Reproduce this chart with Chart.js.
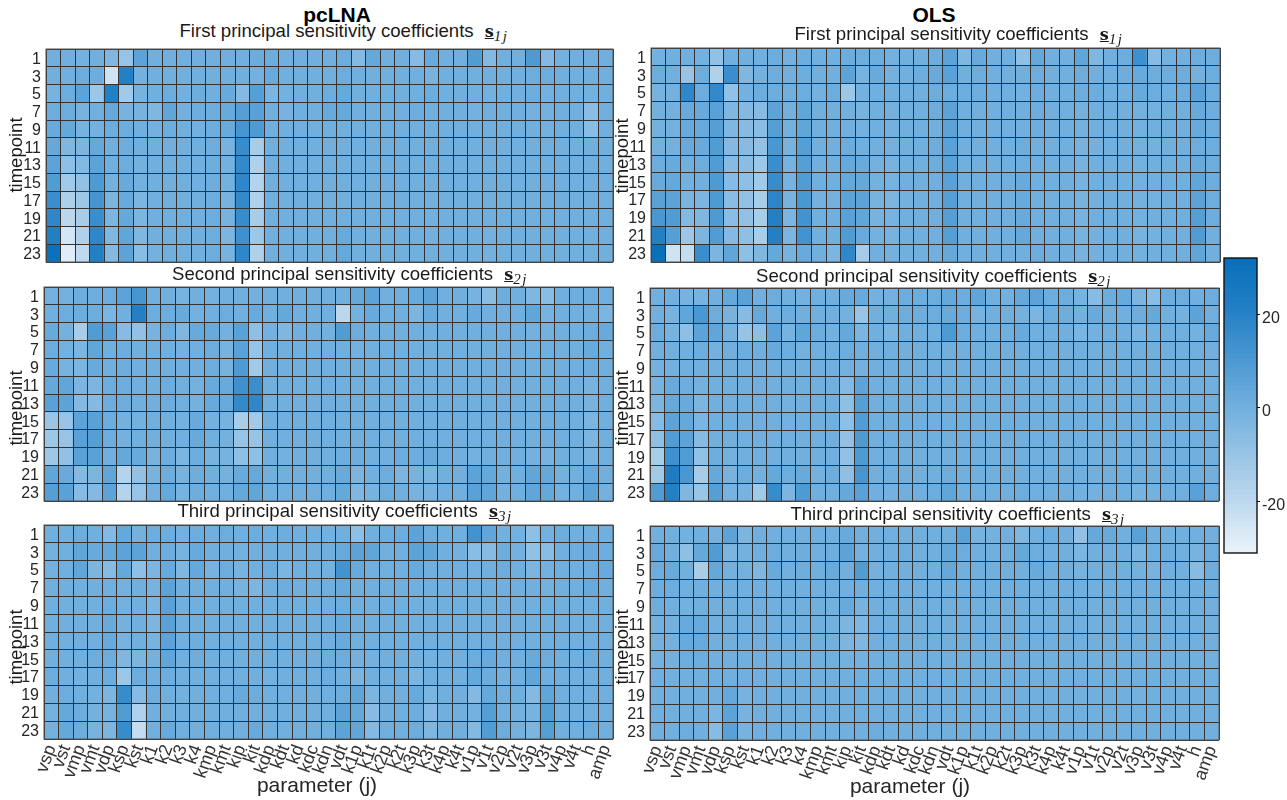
<!DOCTYPE html>
<html>
<head>
<meta charset="utf-8">
<title>Sensitivity coefficients</title>
<script src="https://cdn.jsdelivr.net/npm/chart.js@4"></script>
<style>
    html, body { margin: 0; padding: 0; background: #fff; }
    body { position: relative; width: 1287px; height: 800px; overflow: hidden; font-family: "Liberation Sans", sans-serif; color: #262626; }
    canvas { position: absolute; }
    .label { position: absolute; transform: translate(-50%, -50%); white-space: nowrap; }
    .head { font-size: 21px; font-weight: bold; color: #000; }
    .sub { font-size: 18.6px; color: #1a1a1a; }
    .xname { font-size: 21px; }
    .yname { font-size: 18.5px; color: #1a1a1a; transform: translate(-50%, -50%) rotate(-90deg); }
    .sym { font-family: "DejaVu Serif", serif; font-size: 16px; font-weight: bold; text-decoration: underline; margin-left: 6px; }
    .idx { font-family: "Liberation Serif", serif; font-style: italic; font-size: 15px; letter-spacing: 1.5px; position: relative; top: 4px; }
</style>
</head>
<body>
<script>
const parameters = ["vsp","vst","vmp","vmt","vdp","ksp","kst","k1","k2","k3","k4","kmp","kmt","kip","kit","kdp","kdt","kd","kdc","kdn","vdt","k1p","k1t","k2p","k2t","k3p","k3t","k4p","k4t","v1p","v1t","v2p","v2t","v3p","v3t","v4p","v4t","h","amp"];
const timepoints = ["1","3","5","7","9","11","13","15","17","19","21","23"];
const colorTicks = [20, 0, -20];

const pclnaS1 = [
    [0,0,-1,0,-4,-10,5,0,0,0, 0,0,0,0,1,1,0,0,0,0, 1,-5,3,0,0,-6,2,0,0,8, -5,0,0,9,-5,-1,0,0,0],
    [0,0,1,1,-25,20,-1,0,0,0, 0,0,0,0,-1,2,0,0,0,0, 1,0,0,0,0,0,-2,0,0,0, 0,0,0,1,1,0,0,0,0],
    [-2,1,5,-12,20,-13,-2,0,1,-1, 1,0,2,-5,7,-3,-1,0,0,1, 3,0,0,0,0,0,1,0,0,0, -1,0,0,1,-1,0,0,-1,0],
    [1,1,-2,0,3,-2,-2,-4,4,-1, 1,1,2,7,6,0,-2,0,0,2, 3,0,0,0,0,1,0,0,0,-1, 0,0,0,-1,-1,0,0,-7,0],
    [2,3,-2,-1,1,1,0,-1,1,0, -1,1,2,11,9,0,0,0,0,0, 0,0,0,0,0,0,0,0,0,0, 0,0,0,0,-1,0,0,-7,0],
    [3,-4,-3,3,0,1,0,0,0,0, 0,1,-2,15,-15,0,0,0,0,0, 0,0,0,0,0,0,0,0,0,0, 0,0,0,0,0,0,0,0,0],
    [5,-8,-5,5,0,1,-1,0,0,0, 0,1,-1,16,-17,0,0,0,0,0, 0,0,0,0,0,0,0,0,0,0, 0,0,0,0,0,0,0,0,0],
    [8,-13,-9,9,-1,2,-1,0,0,0, 0,1,-1,17,-18,0,0,0,0,0, 0,0,0,0,0,0,0,0,0,0, 0,0,0,0,0,0,0,0,0],
    [14,-16,-12,11,-3,2,-3,0,0,0, 0,1,-2,16,-17,0,0,0,0,0, 0,0,0,0,0,0,-1,0,0,0, 0,0,0,0,0,0,0,0,0],
    [17,-20,-15,14,-3,3,-3,0,0,0, 0,1,-2,15,-15,0,0,0,0,0, 0,0,0,0,0,0,-1,0,0,0, 0,0,0,0,0,0,0,0,0],
    [21,-26,-17,17,-4,4,-4,0,0,0, 0,1,-3,13,-12,0,0,0,0,0, 2,0,0,0,0,0,-1,0,0,0, -1,0,0,0,0,0,0,0,0],
    [30,-29,-21,20,-5,5,-7,-1,0,0, 0,1,-2,17,-17,0,0,0,0,0, 3,0,0,0,0,0,0,0,0,0, -1,0,0,0,0,0,0,0,0]
];
const pclnaS2 = [
    [-1,-1,1,1,1,5,11,0,0,-2, 0,-1,0,0,-1,0,0,0,0,0, 0,3,5,0,0,2,5,0,0,-2, -7,1,0,-4,-7,0,1,1,0],
    [0,1,1,1,-3,0,20,1,1,2, -1,0,1,0,2,0,3,0,0,0, -20,-1,2,0,0,-3,2,0,0,2, 0,0,0,4,-2,0,0,0,-3],
    [2,-1,-15,8,6,-6,-9,-2,1,-4, 2,2,-1,6,-8,-1,-4,0,0,-1, 8,1,0,0,0,0,0,0,0,0, 0,0,0,-1,-1,0,0,1,2],
    [1,-1,-3,4,0,1,0,0,0,-1, 0,1,-2,6,-10,0,0,0,0,0, 0,-1,0,0,0,0,0,0,0,0, 0,0,0,0,0,0,0,2,0],
    [2,-2,-3,2,0,1,0,0,0,0, 0,1,-2,9,-13,0,0,0,0,0, 0,0,0,0,0,0,0,0,0,0, 0,0,0,0,0,0,0,1,0],
    [3,4,-3,-3,1,1,0,0,1,0, -1,2,2,13,14,0,0,0,0,0, 0,0,0,0,0,0,0,0,0,0, 0,0,0,0,0,0,0,-2,0],
    [6,5,-5,-5,1,1,0,0,1,0, -1,2,2,16,17,0,0,0,0,0, 0,0,0,0,0,0,0,0,0,0, 0,0,0,0,0,0,0,-2,0],
    [-11,-10,5,6,1,-1,-1,0,0,-1, 2,-1,-2,-15,-13,0,0,0,0,0, 0,0,0,0,0,0,0,0,0,0, 0,0,0,0,0,0,0,-3,0],
    [-12,-10,6,7,1,-1,0,0,0,0, 2,0,-1,-10,-10,0,0,0,0,0, 0,0,0,0,0,0,0,0,0,0, 0,0,0,0,0,0,0,-3,0],
    [-12,-9,6,6,0,3,2,-2,1,-3, 1,-2,-2,-8,-8,0,-1,0,0,0, 1,1,0,0,1,1,2,1,0,-1, 0,0,0,-1,-2,0,0,-2,0],
    [4,2,-5,-3,4,-18,-9,-2,1,-2, 1,0,-1,2,3,0,0,0,0,0, 2,-3,0,1,-3,-2,-3,0,0,5, 3,-1,0,4,3,-1,0,2,0],
    [7,6,-6,-5,5,-18,-10,-1,3,-2, 1,0,0,3,4,0,0,0,0,0, 3,-4,-2,1,0,-2,-2,0,0,6, 4,-1,0,4,3,-1,0,5,-1]
];
const pclnaS3 = [
    [0,0,1,0,-5,3,-1,1,1,-1, 1,0,1,0,1,0,1,0,0,-1, 0,-8,0,1,1,5,1,0,0,12, 4,-1,-1,-8,-1,1,0,0,0],
    [-1,0,4,2,3,5,5,0,1,-2, 2,0,0,-1,0,0,0,0,0,0, 2,5,4,0,0,5,4,0,-1,-7, -6,1,-1,-9,-7,0,1,2,1],
    [-1,0,4,-3,-6,3,-8,-3,2,-4, 3,-2,1,-2,0,1,-3,0,0,-1, 12,2,0,0,0,2,0,0,0,-1, 0,1,0,-3,-1,0,0,1,2],
    [0,0,0,0,0,-1,0,-2,5,0, 0,0,0,-2,-3,0,1,0,0,0, 2,0,0,0,0,0,0,0,0,0, 0,0,0,0,-1,0,0,2,0],
    [0,0,0,0,1,-1,0,-3,6,0, 0,0,0,0,0,0,0,0,0,0, 1,0,0,0,0,0,0,0,0,0, 0,0,0,0,0,0,0,0,0],
    [0,0,0,0,2,-1,0,-3,6,0, 0,0,0,0,0,0,0,0,0,0, 2,0,0,0,0,0,0,0,0,0, 0,0,0,0,0,0,0,0,0],
    [0,0,0,0,2,-2,0,-2,5,0, 1,0,0,0,0,0,0,0,0,0, 2,0,0,0,0,0,0,0,0,0, 0,0,0,0,0,0,0,0,0],
    [0,0,0,1,1,-4,-3,-1,4,0, 1,0,0,0,0,0,0,0,0,1, 1,-1,-1,0,0,-1,-1,0,0,1, 2,0,0,2,1,0,0,1,0],
    [1,0,-1,0,1,-12,1,0,1,0, 0,0,0,0,0,-1,0,0,0,1, 0,-3,0,0,0,-3,0,0,0,3, 1,-1,0,4,0,0,0,0,0],
    [0,1,0,-1,-3,15,-6,1,0,-1, 0,0,0,2,1,0,0,0,0,0, 1,4,-3,0,0,2,-3,0,0,-5, 3,0,0,-5,4,0,0,0,0],
    [-1,3,1,-1,-2,8,-17,0,0,0, 0,0,0,0,0,0,0,0,0,0, 5,3,-6,0,0,1,-5,0,0,-1, 7,0,-1,-2,7,0,0,0,0],
    [-1,3,1,-2,-3,15,-22,0,2,0, 0,0,0,0,2,0,0,0,0,0, 5,4,-5,0,0,1,-4,0,0,-5, 8,1,-1,-3,7,0,0,1,0]
];
const olsS1 = [
    [-1,0,0,-1,-9,0,0,0,1,-1, 1,0,0,1,1,1,-1,0,0,1, 5,-4,2,0,0,-8,3,0,0,4, -4,0,1,13,-6,-1,0,1,1],
    [1,0,-10,1,-17,14,-4,-1,1,0, 1,0,0,5,-2,2,-1,0,1,2, 6,0,1,0,0,0,1,0,0,1, 0,0,1,2,1,1,1,-1,1],
    [-2,-1,17,1,16,-9,-1,1,1,0, 1,-1,1,-12,-1,0,0,0,0,1, 1,1,1,0,0,-1,1,0,0,1, 1,0,0,2,1,0,1,5,1],
    [-1,-1,2,2,6,-4,-5,-6,5,-1, 4,0,0,-1,-2,0,-1,0,0,1, 5,0,0,0,0,0,1,0,0,-1, 0,0,0,-1,-1,0,0,2,1],
    [-1,-1,2,2,7,-4,-6,-7,7,-1, 4,0,0,0,-1,0,-1,0,0,0, 5,0,0,0,0,0,1,0,0,-1, 0,0,0,-1,0,0,0,2,1],
    [-1,-1,2,2,8,-5,-6,-9,10,-2, 7,0,0,1,0,0,-1,0,0,1, 6,0,0,0,0,1,0,0,0,-2, -1,0,0,-1,-1,0,0,1,1],
    [1,2,0,1,8,-6,-7,-12,14,-2, 7,0,0,3,2,-1,-2,0,0,1, 6,0,0,0,0,1,0,0,0,-2, 0,0,0,-1,0,0,0,2,1],
    [2,3,-1,0,9,-6,-8,-13,15,-2, 8,0,0,3,3,-1,-2,0,0,0, 6,0,0,0,0,2,0,0,0,-2, 0,0,0,-1,0,0,0,4,1],
    [6,5,-3,-3,9,-7,-9,-15,18,-2, 10,-1,-1,5,5,-2,-3,-1,0,0, 7,0,0,0,0,2,0,0,0,-2, -1,0,0,-1,-1,0,0,5,1],
    [10,8,-5,-4,9,-7,-9,-15,20,-3, 12,0,0,6,4,-2,-2,0,0,0, 7,0,0,0,0,2,0,0,0,-2, 0,0,0,-1,0,0,0,7,1],
    [20,7,-12,-3,8,-5,-8,-15,20,-3, 12,0,0,8,2,-1,-2,0,0,0, 7,0,0,0,0,3,0,0,0,-2, -1,0,0,-2,-1,0,0,8,0],
    [31,-25,-22,14,-3,4,-8,-4,3,-2, 2,0,-3,17,-14,0,-1,0,0,0, 3,0,0,0,0,0,1,0,0,-2, -1,0,0,-1,0,0,0,4,0]
];
const olsS2 = [
    [0,0,-2,-2,0,3,6,0,1,0, -1,0,0,2,2,-1,-1,1,1,1, 3,1,4,0,-1,3,5,1,1,-2, -6,1,2,-3,-7,1,1,0,1],
    [0,-2,4,10,1,-2,-6,3,0,1, 0,0,0,-1,-10,0,0,1,1,1, 2,1,-2,0,0,-1,-3,1,1,-1, 2,0,0,1,3,0,-1,5,0],
    [1,-2,-8,5,4,-2,-10,-8,5,-2, 4,1,-1,3,-3,0,-3,0,0,0, 9,1,0,0,0,2,0,0,0,-3, -1,0,0,-3,-1,0,0,-1,2],
    [0,0,0,1,-1,0,1,0,2,1, -1,0,0,1,0,0,0,0,0,0, 0,0,0,0,0,0,0,0,0,0, 0,0,0,0,0,0,0,0,0],
    [-1,-1,0,0,0,0,0,0,0,0, 0,0,0,-1,-1,0,0,0,0,0, 0,0,0,0,0,0,0,0,0,0, 0,0,0,0,0,0,0,0,0],
    [-2,2,1,-1,0,0,0,0,0,0, 0,0,0,-5,5,0,0,0,0,0, 0,0,0,0,0,0,0,0,0,0, 0,0,0,0,0,0,0,0,0],
    [-3,3,2,-3,0,0,0,0,0,-1, 0,0,0,-8,7,0,0,0,0,0, 0,0,0,0,0,0,0,0,0,0, 0,0,0,0,0,0,0,0,0],
    [-6,5,3,-3,0,0,0,0,0,-1, 0,0,0,-8,8,0,0,0,0,0, 0,0,0,0,0,0,0,0,0,0, 0,0,0,0,0,0,0,0,0],
    [-8,8,5,-6,0,0,0,0,0,0, 0,0,0,-9,9,0,0,0,0,0, 0,0,0,0,0,0,0,0,0,0, 0,0,0,0,0,0,0,0,0],
    [-15,13,8,-9,1,-1,0,0,0,0, 0,0,0,-9,9,0,0,0,0,0, 0,0,0,0,0,0,0,0,0,0, 0,0,0,0,0,0,0,0,0],
    [-13,23,10,-14,3,-2,1,-1,3,1, 2,-1,1,-8,11,0,0,0,0,0, 1,0,0,0,0,0,0,0,0,0, 0,0,0,0,0,0,0,0,0],
    [8,20,-4,-11,7,-2,-2,-13,15,-3, 9,0,0,3,6,0,-1,0,0,1, 4,0,0,0,0,1,0,0,0,-1, -1,0,0,-2,-1,0,0,6,1]
];
const olsS3 = [
    [0,0,-1,0,-1,5,-3,0,0,0, 0,0,0,2,0,0,0,0,0,0, 0,6,-2,-1,0,-4,0,1,0,-9, 3,2,0,6,0,-1,0,0,0],
    [2,0,-8,3,8,-3,-1,0,1,0, 1,0,1,5,-1,0,0,1,0,0, 3,1,0,0,0,3,1,0,0,-3, 0,0,0,-3,0,1,0,-2,1],
    [1,2,0,-15,3,-1,-1,-4,2,0, 1,0,2,0,8,-1,0,0,0,0, 3,0,0,0,0,0,2,0,0,-2, 0,0,0,-1,-2,0,0,-6,1],
    [1,1,0,0,0,0,0,0,0,0, 0,0,0,0,0,0,0,0,0,0, 0,0,0,0,0,0,0,0,0,0, 0,0,0,0,0,0,0,0,0],
    [1,0,-1,0,0,0,0,0,0,0, 0,0,-1,2,-2,0,0,0,0,0, 0,0,0,0,0,0,0,0,0,0, 0,0,0,0,0,0,0,0,0],
    [-1,-1,2,2,0,0,0,0,0,0, 0,0,-1,-3,-4,0,0,0,0,0, 0,0,0,0,0,0,0,0,0,0, 0,0,0,0,0,0,0,0,0],
    [-1,-1,2,2,0,0,0,0,0,0, 0,0,-1,-3,-4,0,0,0,0,0, 0,0,0,0,0,0,0,0,0,0, 0,0,0,0,0,0,0,0,0],
    [-1,-1,1,1,0,0,0,0,0,0, 0,0,0,-1,-1,0,0,0,0,0, 0,0,0,0,0,0,0,0,0,0, 0,0,0,0,0,0,0,0,0],
    [0,0,0,0,0,0,0,0,0,0, 0,0,0,0,0,0,0,0,0,0, 0,0,0,0,0,0,0,0,0,0, 0,0,0,0,0,0,0,0,0],
    [0,0,0,0,0,3,-2,0,0,0, 0,0,0,0,0,0,0,0,0,0, 0,0,0,0,0,0,0,0,0,-1, 0,0,0,-1,0,0,0,0,0],
    [0,0,0,0,-3,5,-2,0,0,0, 0,0,0,0,0,0,0,0,0,0, 0,0,0,0,0,0,0,0,0,0, 0,0,0,0,0,0,0,0,0],
    [0,0,1,0,-6,6,-2,0,0,0, 0,0,0,0,0,1,0,0,0,0, 0,0,0,0,0,0,0,0,0,0, 0,0,0,0,0,0,0,0,0]
];

// colour ramp
const rampValues = [-31, -20, 0, 20, 32];
const rampColors = [[232,242,250], [187,215,237], [112,175,222], [36,128,197], [6,110,185]];

function colorFor(v) {
    let i = 0;
    while (i < rampValues.length - 2 && v > rampValues[i + 1]) i++;
    const t = (v - rampValues[i]) / (rampValues[i + 1] - rampValues[i]);
    const c = rampColors[i].map((a, k) => Math.round(a + (rampColors[i + 1][k] - a) * t));
    return `rgb(${c[0]},${c[1]},${c[2]})`;
}

const frame = {
    id: 'frame',
    afterDraw(chart, args, opts) {
        const a = chart.chartArea, ctx = chart.ctx;
        ctx.save();
        ctx.strokeStyle = opts.color;
        ctx.lineWidth = opts.width;
        ctx.strokeRect(a.left, a.top, a.right - a.left, a.bottom - a.top);
        ctx.restore();
    }
};

const AXIS_W = 46, PAD = 3, XLABEL_H = 50;

function addCanvas(left, top, width, height) {
    const canvas = document.createElement('canvas');
    canvas.width = width;
    canvas.height = height;
    canvas.style.left = left + 'px';
    canvas.style.top = top + 'px';
    canvas.style.width = width + 'px';
    canvas.style.height = height + 'px';
    document.body.appendChild(canvas);
    return canvas;
}

function noPadding(scale) {
    scale.paddingTop = 0;
    scale.paddingBottom = 0;
    scale.paddingLeft = 0;
    scale.paddingRight = 0;
}

function renderHeatmap(matrix, box, showNames) {
    const axisH = showNames ? XLABEL_H : 0;
    const canvas = addCanvas(box.left - AXIS_W - PAD, box.top - PAD, box.right - box.left + AXIS_W + 2 * PAD, box.bottom - box.top + axisH + 2 * PAD);

    new Chart(canvas, {
        type: 'bar',
        plugins: [frame],
        data: {
            labels: parameters,
            datasets: matrix.map((row, r) => ({
                label: timepoints[r],
                data: row.map(() => [r, r + 1]),
                backgroundColor: row.map(colorFor),
                borderWidth: 0,
                grouped: false,
                barPercentage: 1,
                categoryPercentage: 1
            }))
        },
        options: {
            responsive: false,
            animation: false,
            layout: { padding: PAD },
            plugins: {
                legend: { display: false },
                tooltip: { enabled: false },
                frame: { color: '#555', width: 1 }
            },
            scales: {
                x: {
                    grid: { offset: true, z: 1, color: '#333', lineWidth: 1, drawTicks: false },
                    border: { display: false },
                    ticks: {
                        display: showNames,
                        autoSkip: false,
                        minRotation: 70,
                        maxRotation: 70,
                        padding: 3,
                        color: '#333',
                        font: { family: 'Liberation Sans', size: 18 }
                    },
                    afterFit(scale) { scale.height = axisH; noPadding(scale); }
                },
                y: {
                    reverse: true,
                    min: 0,
                    max: matrix.length,
                    grid: { display: false, drawTicks: false },
                    border: { display: false },
                    ticks: {
                        autoSkip: false,
                        padding: 5,
                        labelOffset: 1.5,
                        color: '#262626',
                        font: { family: 'Liberation Sans', size: 16 },
                        callback: v => timepoints[Math.floor(v)]
                    },
                    afterBuildTicks(scale) { scale.ticks = timepoints.map((t, i) => ({ value: i + 0.5 })); },
                    afterFit(scale) { scale.width = AXIS_W; noPadding(scale); }
                },
                // second y axis only carries the lines between the rows
                rows: {
                    axis: 'y',
                    position: 'left',
                    reverse: true,
                    min: 0,
                    max: matrix.length,
                    grid: { z: 1, color: '#333', lineWidth: 1, drawTicks: false },
                    border: { display: false },
                    ticks: { display: false, stepSize: 1, autoSkip: false },
                    afterFit(scale) { scale.width = 0; noPadding(scale); }
                }
            }
        }
    });
}

function renderColorbar(box) {
    const canvas = addCanvas(box.left - PAD, box.top - PAD, box.right - box.left + 40 + 2 * PAD, box.bottom - box.top + 2 * PAD);
    const low = rampValues[0], high = rampValues[rampValues.length - 1];
    const levels = Array.from({ length: high - low }, (_, i) => low + i);

    new Chart(canvas, {
        type: 'bar',
        plugins: [frame],
        data: {
            labels: [''],
            // each step overlaps the next one so no seams show in the ramp
            datasets: levels.map(v => ({
                data: [[v, v + 1.5]],
                backgroundColor: colorFor(v + 0.5),
                borderWidth: 0,
                grouped: false,
                barPercentage: 1,
                categoryPercentage: 1
            }))
        },
        options: {
            responsive: false,
            animation: false,
            layout: { padding: PAD },
            plugins: {
                legend: { display: false },
                tooltip: { enabled: false },
                frame: { color: '#111', width: 1.4 }
            },
            scales: {
                x: { display: false },
                y: {
                    position: 'right',
                    min: low,
                    max: high,
                    grid: { drawOnChartArea: false, tickLength: 3, color: '#111' },
                    border: { display: false },
                    ticks: { autoSkip: false, padding: 2, labelOffset: 4, color: '#262626', font: { family: 'Liberation Sans', size: 16 } },
                    afterBuildTicks(scale) { scale.ticks = colorTicks.map(value => ({ value })); },
                    afterFit(scale) { scale.width = 34; noPadding(scale); }
                }
            }
        }
    });
}

function addLabel(html, cx, cy, cls) {
    const el = document.createElement('div');
    el.className = 'label ' + cls;
    el.innerHTML = html;
    el.style.left = cx + 'px';
    el.style.top = cy + 'px';
    document.body.appendChild(el);
}

function sensitivityTitle(word, n) {
    return `${word} principal sensitivity coefficients <span class="sym">s</span><span class="idx">${n}j</span>`;
}

renderHeatmap(pclnaS1, { left: 46, right: 613, top: 49, bottom: 262 }, false);
renderHeatmap(pclnaS2, { left: 44, right: 613, top: 287, bottom: 501 }, false);
renderHeatmap(pclnaS3, { left: 44, right: 613, top: 525, bottom: 739 }, true);
renderHeatmap(olsS1, { left: 651, right: 1220, top: 48, bottom: 262 }, false);
renderHeatmap(olsS2, { left: 650, right: 1219, top: 288, bottom: 501 }, false);
renderHeatmap(olsS3, { left: 650, right: 1219, top: 526, bottom: 740 }, true);
renderColorbar({ left: 1224, right: 1251, top: 258, bottom: 553 });

addLabel('pcLNA', 337, 15, 'head');
addLabel('OLS', 934, 15, 'head');
addLabel(sensitivityTitle('First', 1), 344, 31, 'sub');
addLabel(sensitivityTitle('Second', 2), 350, 274, 'sub');
addLabel(sensitivityTitle('Third', 3), 345, 511, 'sub');
addLabel(sensitivityTitle('First', 1), 959, 34, 'sub');
addLabel(sensitivityTitle('Second', 2), 934, 276, 'sub');
addLabel(sensitivityTitle('Third', 3), 958, 514, 'sub');
addLabel('timepoint', 16, 155, 'yname');
addLabel('timepoint', 16, 408, 'yname');
addLabel('timepoint', 16, 647, 'yname');
addLabel('timepoint', 622, 156, 'yname');
addLabel('timepoint', 622, 408, 'yname');
addLabel('timepoint', 622, 647, 'yname');
addLabel('parameter (j)', 317, 785, 'xname');
addLabel('parameter (j)', 910, 786, 'xname');
</script>
</body>
</html>
